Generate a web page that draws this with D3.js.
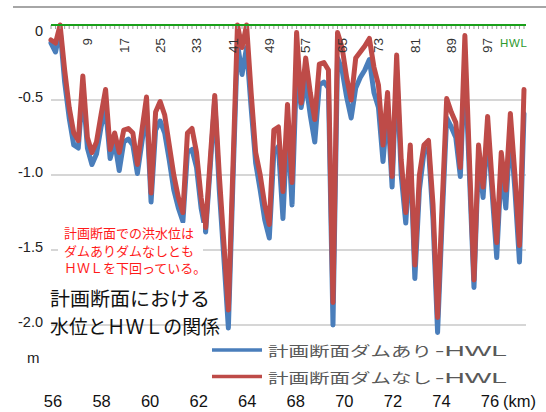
<!DOCTYPE html>
<html><head><meta charset="utf-8">
<script src="https://cdn.jsdelivr.net/npm/d3@7"></script>
<style>body{margin:0;background:#fff;} svg{display:block}</style>
</head><body><svg id="c" width="546" height="412"></svg>
<script>
// 計画断面ダムあり-HWL (m)
const withDam = [
 -0.12,-0.18,-0.03,-0.38,-0.62,-0.80,-0.82,-0.42,-0.82,-0.93,
 -0.86,-0.68,-0.55,-0.89,-0.78,-0.97,-0.78,-0.76,-0.80,-0.99,
 -0.78,-0.56,-1.18,-0.70,-0.64,-0.72,-0.90,-1.10,-1.22,-1.31,
 -0.85,-0.83,-0.95,-1.22,-1.38,-0.95,-0.50,-1.10,-1.55,-2.02,
 -1.05,-0.12,-0.33,-0.15,-0.55,-0.92,-1.10,-1.30,-1.42,-0.85,
 -0.81,-1.29,-0.65,-1.20,-0.30,-0.55,-0.38,-0.60,-0.78,-0.40,
 -0.38,-0.42,-2.00,-0.22,-0.30,-0.48,-0.62,-0.42,-0.35,-0.30,
 -0.23,-0.45,-0.55,-0.91,-0.55,-1.08,-0.30,-1.00,-1.32,-0.85,
 -1.69,-1.10,-0.85,-0.82,-1.30,-2.05,-1.30,-0.62,-0.68,-0.75,
 -1.01,-0.25,-1.00,-1.75,-0.88,-1.15,-0.70,-1.12,-1.55,-0.95,
 -1.22,-0.70,-1.10,-1.58,-0.59
];
// 計画断面ダムなし-HWL (m)
const withoutDam = [
 -0.10,-0.12,0.00,-0.30,-0.55,-0.72,-0.77,-0.34,-0.75,-0.85,
 -0.78,-0.60,-0.43,-0.83,-0.72,-0.85,-0.70,-0.69,-0.72,-0.93,
 -0.70,-0.48,-1.12,-0.58,-0.51,-0.60,-0.80,-1.00,-1.15,-1.25,
 -0.72,-0.69,-0.85,-1.15,-1.35,-0.90,-0.47,-1.00,-1.45,-1.90,
 -0.95,0.00,-0.15,0.00,-0.45,-0.85,-1.00,-1.20,-1.33,-0.70,
 -0.68,-1.11,-0.53,-1.05,-0.05,-0.52,-0.22,-0.45,-0.63,-0.26,
 -0.25,-0.30,-1.85,-0.05,-0.15,-0.35,-0.50,-0.22,-0.18,-0.14,
 -0.09,-0.28,-0.40,-0.80,-0.45,-1.01,-0.20,-0.90,-1.25,-0.80,
 -1.60,-1.00,-0.80,-0.77,-1.20,-1.95,-1.20,-0.49,-0.58,-0.65,
 -0.95,-0.07,-0.90,-1.70,-0.80,-1.08,-0.61,-1.05,-1.45,-0.85,
 -1.10,-0.59,-1.00,-1.47,-0.43
];
const sectionNos = d3.range(1, withDam.length + 1);
const topTickLabels = [9,17,25,33,41,49,57,65,73,81,89,97];
const yTicks = [0,-0.5,-1.0,-1.5,-2.0];
const kmLabels = ["56","58","60","62","64","68","70","72","74","76"];
const seriesNames = ["計画断面ダムあり-HWL","計画断面ダムなし-HWL"];
const seriesColors = ["#4a7ebb","#be4b48"];
const noteRed = ["計画断面での洪水位は","ダムありダムなしとも","ＨＷＬを下回っている。"];
const noteBlack = ["計画断面における","水位とＨＷＬの関係"];

const svg = d3.select("#c");
const LAT = "'Liberation Sans', Arial, sans-serif";
const CJK = "'Noto Sans CJK JP', 'Noto Sans', sans-serif";

const x = d3.scalePoint().domain(sectionNos).range([51, 524]);
const y = d3.scaleLinear().domain([-2, 0]).range([325, 25]);

// top frame line
svg.append("line").attr("x1",13).attr("x2",546).attr("y1",7).attr("y2",7)
  .attr("stroke","#a6a6a6").attr("stroke-width",2);

// gridlines
svg.append("g").selectAll("line").data(yTicks.filter(d=>d!==0)).join("line")
  .attr("x1",51).attr("x2",526).attr("y1",d=>y(d)).attr("y2",d=>y(d))
  .attr("stroke","#c8c8c8").attr("stroke-width",1.5);

// y labels
svg.append("g").selectAll("text").data(yTicks).join("text")
  .attr("x",43).attr("y",d=> d===0 ? y(d)+6 : y(d)-3)
  .attr("dy","0.35em").attr("text-anchor","end")
  .attr("font-family",LAT).attr("font-size",14.5).attr("fill","#222")
  .text(d=> d===0 ? "0" : d.toFixed(1));
svg.append("text").attr("x",27).attr("y",363).attr("font-family",LAT)
  .attr("font-size",15).attr("fill","#222").text("m");

// series
const line = d3.line().x((d,i)=>x(sectionNos[i])).y(d=>y(d));
[withDam, withoutDam].forEach((s,k)=>{
  svg.append("path").datum(s).attr("d",line).attr("fill","none")
    .attr("stroke",seriesColors[k]).attr("stroke-width",5)
    .attr("stroke-linejoin","round").attr("stroke-linecap","round");
});

// white box behind red note
svg.append("rect").attr("x",58).attr("y",223).attr("width",145).attr("height",56).attr("fill","#fff");

// HWL line and category ticks
svg.append("g").selectAll("line").data(sectionNos).join("line")
  .attr("x1",d=>x(d)).attr("x2",d=>x(d)).attr("y1",25).attr("y2",29)
  .attr("stroke","#9a9a9a").attr("stroke-width",1);
svg.append("line").attr("x1",51).attr("x2",526).attr("y1",y(0)).attr("y2",y(0))
  .attr("stroke","#1aa01a").attr("stroke-width",2);
svg.append("text").attr("x",500).attr("y",47).attr("font-family",LAT)
  .attr("font-size",11.5).attr("fill","#2e9a2e").attr("textLength",27)
  .attr("lengthAdjust","spacing").text("HWL");

// top category labels (rotated)
svg.append("g").selectAll("text").data(topTickLabels).join("text")
  .attr("transform",d=>`translate(${x(d)},38) rotate(-90)`)
  .attr("text-anchor","end").attr("dy","0.35em")
  .attr("font-family",LAT).attr("font-size",13.5).attr("fill","#333")
  .text(d=>d);

// bottom km labels
const xb = d3.scalePoint().domain(kmLabels).range([53, 490]);
svg.append("g").selectAll("text").data(kmLabels).join("text")
  .attr("x",d=>xb(d)).attr("y",407).attr("text-anchor","middle")
  .attr("font-family",LAT).attr("font-size",16.5).attr("fill","#111").text(d=>d);
svg.append("text").attr("x",xb("76")+13).attr("y",407).attr("font-family",LAT)
  .attr("font-size",16.5).attr("fill","#111").text("(km)");

// red note
svg.append("g").selectAll("text").data(noteRed).join("text")
  .attr("x",64).attr("y",(d,i)=>238+i*17.5)
  .attr("font-family",CJK).attr("font-size",13).attr("fill","#ff1a1a").text(d=>d);

// black note
svg.append("g").selectAll("text").data(noteBlack).join("text")
  .attr("x",50).attr("y",(d,i)=>306+i*28)
  .attr("font-family",CJK).attr("font-size",19.5).attr("fill","#111")
  .attr("textLength",(d,i)=> i===0 ? 160 : 170).attr("lengthAdjust","spacingAndGlyphs")
  .text(d=>d);

// legend
seriesNames.forEach((name,k)=>{
  const ly = 350 + k*26.5;
  svg.append("line").attr("x1",212).attr("x2",262).attr("y1",ly).attr("y2",ly)
    .attr("stroke",seriesColors[k]).attr("stroke-width",3.5);
  const idx = name.indexOf("-");
  svg.append("text").attr("x",268).attr("y",ly+6).attr("font-family",CJK)
    .attr("font-size",14).attr("fill","#595959")
    .attr("textLength",164).attr("lengthAdjust","spacingAndGlyphs").text(name.slice(0,idx));
  svg.append("text").attr("x",435).attr("y",ly+6).attr("font-family",LAT)
    .attr("font-size",15.5).attr("fill","#595959")
    .attr("textLength",72).attr("lengthAdjust","spacingAndGlyphs").text(name.slice(idx));
});
</script>
</body></html>
